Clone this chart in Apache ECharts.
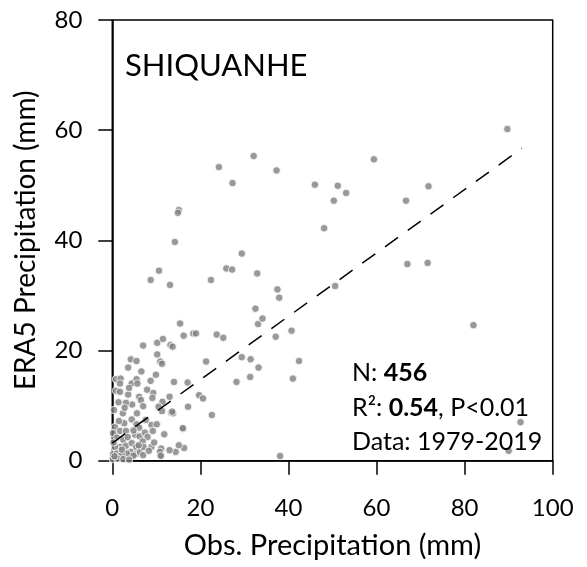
<!DOCTYPE html>
<html><head><meta charset="utf-8">
<script src="https://cdn.jsdelivr.net/npm/echarts@6/dist/echarts.min.js"></script>
<style>html,body{margin:0;padding:0;background:#fff}#c{width:587px;height:567px}</style>
</head><body><div id="c"></div>
<script>
// Observed (x) vs ERA5 (y) precipitation, mm
const obsX = [89.7,92.7,90,82,59.4,71.8,66.7,67,71.6,46,51.2,53.1,50.3,48.1,50.6,32.1,24.2,37.3,27.3,15.1,14.9,14.2,29.4,25.9,27.2,32.9,10.6,8.7,13.1,22.4,37.5,37.9,32.5,33.1,34.1,37.1,40.7,42.4,41,29.4,31.4,33.2,31.3,28.2,15.4,16.2,18.4,19,23.7,25.2,21.3,22.6,38.1,17.1,17.2,19.7,20.6,16.1,16.3,15.1,14.4,13,11.1,11,11.8,13.4,13.8,11.4,10.5,11.3,13,14,8.7,9.3,9.1,7,10.2,11.5,13.2,13.7,10.2,10.9,11.3,4.2,5.5,3.6,8.9,10.1,9.2,
  0.84,1.9,1.75,0.84,1.75,3.6,4.4,5.5,5.7,6.1,6.5,7,4.5,3.1,2.4,4.4,5.5,6.1,0.6,2.7,1.75,3.1,0.2,1,2.5,1.75,0.6,0.2,1,3.1,4.4,5.2,6.2,7.4,8,6.9,5.4,4.2,5.4,6.3,7,7.1,8.9,3.3,2.1,0.1,1.1,4.8,10.8,11,16,13.6,
  0.5,2.5,3.8,0.3,1.5,3.5,2.2,4.8,6,8.3,9.5,0.4,1.4,2.8,5.6,7.6,3.8,6.6,7.9,9.9];
const eraY = [60.2,7.0,1.8,24.6,54.7,49.8,47.2,35.7,35.9,50.1,49.9,48.6,47.2,42.2,31.7,55.3,53.3,52.7,50.4,45.5,45,39.7,37.6,34.9,34.7,34.0,34.5,32.8,31.9,32.8,31.1,29.6,27.6,24.8,25.8,22.5,23.6,18.1,14.9,18.8,18.4,16.9,15.2,14.3,24.9,22.7,23.1,23.1,22.9,22.3,18.0,8.3,0.85,14.2,9.8,11.9,11.3,5.8,2.3,2.8,1.6,1.9,2.2,1.0,4.8,8.7,8.6,10.7,9.8,9.0,11.6,14.3,14.5,12.3,11.4,20.9,21.4,22.1,21,20.7,19.3,18,17.6,18.4,18.1,16.9,6.5,6.6,5.4,
  14.8,14.9,14.0,12.7,12.5,12,14,14.8,14,11.6,11,9.9,10.2,10.5,8.6,7.5,6.6,6.0,6.1,6.8,5.4,5.4,5.0,4.2,3.8,2.5,2.5,1.2,1.3,2.7,3.2,4.7,4.4,5.1,4.3,3.5,2.5,1.6,1.2,1.6,1,2.5,2.5,1.3,1.1,0.3,0.4,0.9,1.6,0.9,5.9,8.9,
  0.8,0.3,0.2,3.3,7.2,4.3,2.0,5.5,2.8,1.8,3.3,9.2,10.6,9.6,8.6,7.4,13.2,16.2,12.9,15.6];
// Regression (dashed) line end points
const fitX = [0, 93];
const fitY = [3.2, 56.7];
const xTicks = [0, 20, 40, 60, 80, 100];
const yTicks = [0, 20, 40, 60, 80];
const stationName = 'SHIQUANHE';
const nCount = '456';
const r2 = '0.54';
const pText = 'P<0.01';
const period = '1979-2019';

const FONT = 'Lato';
const chart = echarts.init(document.getElementById('c'), null, {renderer: 'canvas'});
const axisCommon = {
  axisLine: {show: true, lineStyle: {color: '#000', width: 1.5}},
  axisTick: {show: true, inside: false, length: 14, lineStyle: {color: '#000', width: 1.5}},
  splitLine: {show: false},
  nameTextStyle: {fontFamily: FONT, fontSize: 29, color: '#000'},
  nameLocation: 'middle'
};
chart.setOption({
  animation: false,
  backgroundColor: '#fff',
  grid: {left: 112.3, right: 34.3, top: 20, bottom: 106.3, show: true, borderColor: '#000', borderWidth: 1.5, backgroundColor: 'transparent'},
  xAxis: Object.assign({}, axisCommon, {
    type: 'value', min: xTicks[0], max: xTicks[xTicks.length-1], interval: 20,
    name: 'Obs. Precipitation (mm)', nameGap: 70,
    axisLabel: {fontFamily: FONT, fontSize: 24, color: '#000', margin: 36}
  }),
  yAxis: Object.assign({}, axisCommon, {
    type: 'value', min: yTicks[0], max: yTicks[yTicks.length-1], interval: 20,
    name: 'ERA5 Precipitation (mm)', nameGap: 72,
    nameTextStyle: {fontFamily: FONT, fontSize: 28, color: '#000'},
    axisLabel: {fontFamily: FONT, fontSize: 24, color: '#000', margin: 30}
  }),
  series: [
    {
      type: 'scatter', data: obsX.map((x, i) => [x, eraY[i]]),
      symbol: 'circle', symbolSize: 7.5,
      itemStyle: {color: '#808080', borderColor: '#fff', borderWidth: 1},
      z: 2
    },
    {
      type: 'line', data: fitX.map((x, i) => [x, fitY[i]]),
      symbol: 'none', lineStyle: {color: '#000', width: 1.5, type: [16, 12]},
      z: 3
    }
  ],
  graphic: [
    {type: 'text', left: 125, top: 50, style: {text: stationName, font: '31px Lato', fill: '#000', verticalAlign: 'middle'}, z: 10},
    {type: 'text', x: 352, y: 373, style: {
      text: '{a|N: }{b|' + nCount + '}',
      verticalAlign: 'middle',
      rich: {a: {fontFamily: FONT, fontSize: 25, color: '#000'}, b: {fontFamily: FONT, fontSize: 25, fontWeight: 'bold', color: '#000'}}
    }, z: 10},
    {type: 'text', x: 352, y: 408, style: {
      text: '{a|R²: }{b|' + r2 + '}{a|, ' + pText + '}',
      verticalAlign: 'middle',
      rich: {a: {fontFamily: FONT, fontSize: 25, color: '#000'}, b: {fontFamily: FONT, fontSize: 25, fontWeight: 'bold', color: '#000'}}
    }, z: 10},
    {type: 'text', x: 352, y: 442, style: {
      text: 'Data: ' + period, font: '25px Lato', fill: '#000', verticalAlign: 'middle'
    }, z: 10}
  ]
});
</script></body></html>
